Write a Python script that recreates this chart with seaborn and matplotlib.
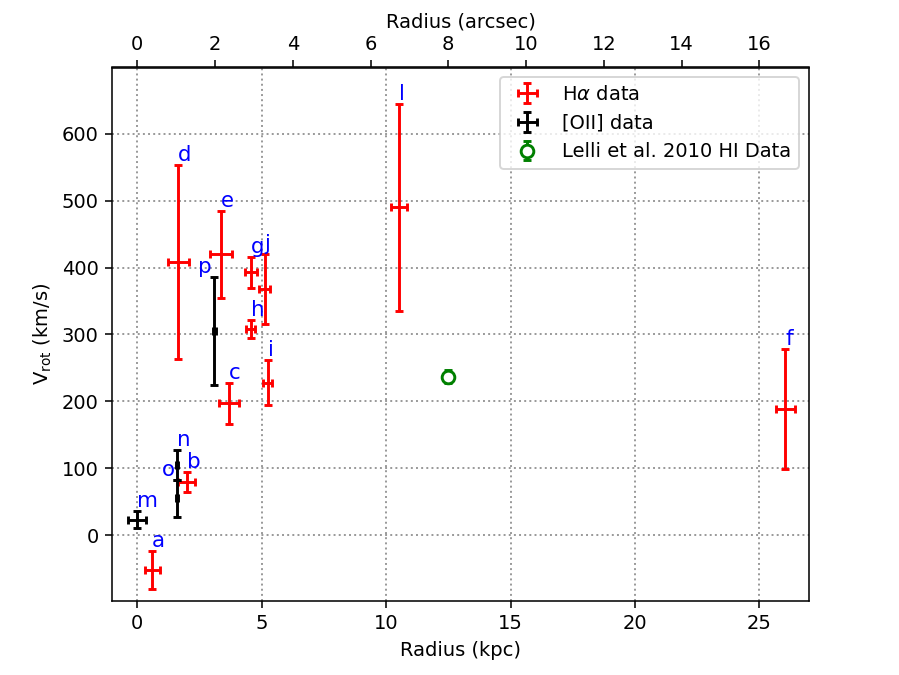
import numpy as np
import matplotlib
matplotlib.use('Agg')
import matplotlib.pyplot as plt
import seaborn as sns

# H-alpha points
ha_label = ['a', 'b', 'c', 'd', 'e', 'f', 'g', 'h', 'i', 'j', 'l']
ha_r = [0.6, 1.98, 3.7, 1.65, 3.35, 26.05, 4.56, 4.56, 5.24, 5.12, 10.52]
ha_rerr = [0.3, 0.36, 0.4, 0.42, 0.44, 0.4, 0.24, 0.18, 0.18, 0.22, 0.32]
ha_v = [-52, 80, 197, 408, 420, 189, 393, 308, 228, 368, 490]
ha_verr = [29, 15, 31, 145, 65, 90, 23, 14, 34, 53, 155]

# [OII] points
oii_label = ['m', 'n', 'o', 'p']
oii_r = [0.0, 1.6, 1.6, 3.1]
oii_rerr = [0.36, 0.05, 0.05, 0.05]
oii_v = [23, 105, 55, 305]
oii_verr = [13, 22, 28, 81]

# Lelli et al. 2010 HI
hi_r = [12.5]
hi_v = [237]
hi_verr = [10]

kpc_per_arcsec = 1.5625

sns.set_style("ticks", {"axes.edgecolor": "black", "xtick.color": "black",
                        "ytick.color": "black", "text.color": "black",
                        "axes.labelcolor": "black"})
plt.rcParams['font.family'] = ['DejaVu Sans']
plt.rcParams['mathtext.fontset'] = 'dejavusans'

fig, ax = plt.subplots(figsize=(899 / 140, 675 / 140), dpi=140)
fig.subplots_adjust(left=0.125, right=0.9, bottom=0.11, top=0.9)

ax.errorbar(ha_r, ha_v, xerr=ha_rerr, yerr=ha_verr, fmt='none', ecolor='red',
            elinewidth=1.5, capsize=2, capthick=1.5, label=r'H$\alpha$ data')
ax.errorbar(oii_r, oii_v, xerr=oii_rerr, yerr=oii_verr, fmt='none', ecolor='black',
            elinewidth=1.5, capsize=2, capthick=1.5, label='[OII] data')
ax.errorbar(hi_r, hi_v, yerr=hi_verr, fmt='o', color='green', mfc='white', mew=1.5,
            ms=6.5, elinewidth=1.5, capsize=2, capthick=1.5,
            label='Lelli et al. 2010 HI Data')

# point labels
for lab, r, v, e in zip(ha_label, ha_r, ha_v, ha_verr):
    ax.text(r, v + e, lab, color='blue', fontsize=11, ha='left', va='bottom')
for lab, r, v, e in zip(oii_label, oii_r, oii_v, oii_verr):
    if lab in ['o', 'p']:
        ax.text(r - 0.1, v + e, lab, color='blue', fontsize=11, ha='right', va='bottom')
    else:
        ax.text(r, v + e, lab, color='blue', fontsize=11, ha='left', va='bottom')

ax.set_xlim(-1, 27)
ax.set_ylim(-98, 699)
ax.set_xlabel('Radius (kpc)')
ax.set_ylabel(r'V$_{\rm rot}$ (km/s)')
ax.grid(True, linestyle=':', color='0.6', linewidth=1)

top = ax.secondary_xaxis('top', functions=(lambda x: x / kpc_per_arcsec,
                                           lambda x: x * kpc_per_arcsec))
top.set_xlabel('Radius (arcsec)')
top.set_xticks(np.arange(0, 17, 2))

ax.legend(loc='upper right', fancybox=True, framealpha=0.8)

plt.savefig('out.png', dpi=140)
